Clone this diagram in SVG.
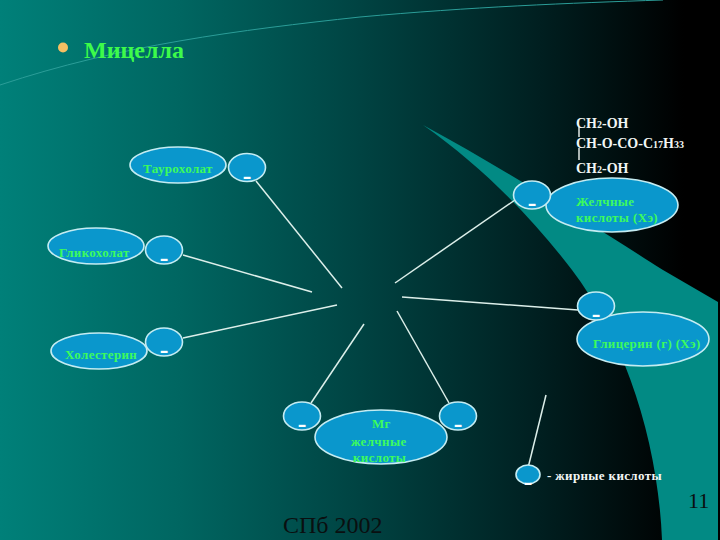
<svg xmlns="http://www.w3.org/2000/svg" width="720" height="540" viewBox="0 0 720 540">
<style>
.e{fill:#0a97cc;stroke:#c4ecf2;stroke-width:1.6}
.c{stroke:#dcefea;stroke-width:1.5;fill:none}
text{font-family:"Liberation Serif","Times New Roman",serif}
.g{fill:#3dfb5c;font-weight:bold;font-size:13px;letter-spacing:.35px}
.w{fill:#f2f6f4;font-weight:bold;font-size:14px}
.m{fill:#fff;font-weight:bold;font-size:26px;text-anchor:middle}
.k{fill:#0a0f10;font-size:24px}
tspan.s{font-size:10px}
</style>
<defs>
<linearGradient id="bg" x1="0" y1="0" x2="1" y2="0">
<stop offset="0" stop-color="#008079"/>
<stop offset=".25" stop-color="#006661"/>
<stop offset=".5" stop-color="#004342"/>
<stop offset=".75" stop-color="#001f20"/>
<stop offset=".95" stop-color="#000000"/>
<stop offset="1" stop-color="#000000"/>
</linearGradient>
</defs>
<rect id="background" width="720" height="540" fill="url(#bg)"/>
<path id="top-line" d="M0 85C120 45 240 30 360 17C470 7 570 3 663 0" fill="none" stroke="#2b9d98" stroke-width="1"/>
<path id="swoosh" d="M423 125C510 172 600 230 663 270L718 302V540H662C658 440 625 340 572 270C530 215 480 165 423 125Z" fill="#028a84"/>
<circle id="bullet" cx="63" cy="47.500" r="5" fill="#f5c063"/>
<text id="title" x="84" y="58" fill="#3dfb4a" font-size="24" font-weight="bold">Мицелла</text>
<g id="connectors">
<line class="c" x1="256" y1="181" x2="342" y2="288"/>
<line class="c" x1="183" y1="255" x2="312" y2="292"/>
<line class="c" x1="183" y1="338" x2="337" y2="305"/>
<line class="c" x1="311" y1="403" x2="364" y2="324"/>
<line class="c" x1="449" y1="403" x2="397" y2="311"/>
<line class="c" x1="578" y1="310" x2="402" y2="297"/>
<line class="c" x1="515" y1="200" x2="395" y2="283"/>
<line class="c" x1="528" y1="468" x2="546" y2="395"/>
<line x1="579" y1="127" x2="579" y2="137" stroke="#aab4b2" stroke-width="2"/>
<line x1="579" y1="148" x2="579" y2="160" stroke="#aab4b2" stroke-width="2"/>
</g>
<g id="taurocholate"><ellipse class="e" cx="178" cy="165" rx="48" ry="18"/><text class="g" x="143" y="173">Таурохолат</text></g>
<g id="taurocholate-minus"><ellipse class="e" cx="247" cy="167.500" rx="18.500" ry="14"/><text class="m" x="247" y="183.500">-</text></g>
<g id="glycocholate"><ellipse class="e" cx="96" cy="246" rx="48" ry="18"/><text class="g" x="59" y="257">Гликохолат</text></g>
<g id="glycocholate-minus"><ellipse class="e" cx="164" cy="250" rx="18.500" ry="14"/><text class="m" x="164" y="266">-</text></g>
<g id="cholesterol"><ellipse class="e" cx="99" cy="351" rx="48" ry="18"/><text class="g" x="65" y="359">Холестерин</text></g>
<g id="cholesterol-minus"><ellipse class="e" cx="164" cy="342" rx="18.500" ry="14"/><text class="m" x="164" y="358">-</text></g>
<g id="mg-acids"><ellipse class="e" cx="381" cy="437" rx="66" ry="27"/><text class="g" x="372" y="428">Мг</text><text class="g" x="351" y="446">желчные</text><text class="g" x="353" y="462">кислоты</text></g>
<g id="mg-minus-left"><ellipse class="e" cx="302" cy="416" rx="18.500" ry="14"/><text class="m" x="302" y="432">-</text></g>
<g id="mg-minus-right"><ellipse class="e" cx="458" cy="416" rx="18.500" ry="14"/><text class="m" x="458" y="432">-</text></g>
<g id="glycerol"><ellipse class="e" cx="643" cy="339" rx="66" ry="27"/><text class="g" x="593" y="348">Глицерин (г) (Хэ)</text></g>
<g id="glycerol-minus"><ellipse class="e" cx="596" cy="306" rx="18.500" ry="14"/><text class="m" x="596" y="322">-</text></g>
<g id="bile-acids"><ellipse class="e" cx="612" cy="205" rx="66" ry="27"/><text class="g" x="576" y="206">Желчные</text><text class="g" x="576" y="222">кислоты (Хэ)</text></g>
<g id="bile-minus"><ellipse class="e" cx="532" cy="195" rx="18.500" ry="14"/><text class="m" x="532" y="211">-</text></g>
<g id="fatty-acid"><ellipse class="e" cx="528" cy="474.500" rx="12" ry="9.500"/><text class="m" x="528" y="490">-</text><text class="g" x="547" y="480" style="fill:#f2f6f4">- жирные кислоты</text></g>
<g id="formula">
<text class="w" x="576" y="128">CH<tspan class="s">2</tspan>-OH</text>
<text class="w" x="576" y="148">CH-O-CO-C<tspan class="s">17</tspan>H<tspan class="s">33</tspan></text>
<text class="w" x="576" y="173">CH<tspan class="s">2</tspan>-OH</text>
</g>
<text id="footer" class="k" x="283" y="533">СПб 2002</text>
<text id="page" class="k" x="688" y="508" style="font-size:22px">11</text>
</svg>
